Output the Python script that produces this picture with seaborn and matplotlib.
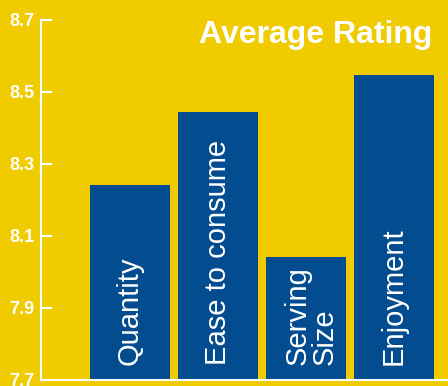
import matplotlib
matplotlib.use("Agg")
import matplotlib.pyplot as plt
import seaborn as sns
import pandas as pd

categories = ["Quantity", "Ease to consume", "Serving Size", "Enjoyment"]
labels = ["Quantity", "Ease to consume", "Serving\nSize", "Enjoyment"]
values = [8.242, 8.444, 8.042, 8.547]
yticks = [7.7, 7.9, 8.1, 8.3, 8.5, 8.7]
title = "Average Rating"

YELLOW = "#F0CB00"
BLUE = "#024C8F"

sns.set_style("white")
plt.rcParams["font.family"] = ["Liberation Sans", "DejaVu Sans"]

df = pd.DataFrame({"cat": categories, "val": values})

fig = plt.figure(figsize=(4.48, 3.86), dpi=100)
fig.patch.set_facecolor(YELLOW)
ax = fig.add_axes([41 / 448, 6 / 386, 1 - 41 / 448, 360 / 386])
ax.set_facecolor(YELLOW)

sns.barplot(data=df, x="cat", y="val", color=BLUE, width=0.909,
            saturation=1, ax=ax, linewidth=0)

ax.set_ylim(7.7, 8.7)
ax.set_xlim(-1.011, 3.614)
ax.set_yticks(yticks)
ax.set_yticklabels([f"{t:.1f}" for t in yticks], fontsize=13,
                   fontweight="bold", color="white")
ax.set_xticks([])
ax.set_xlabel("")
ax.set_ylabel("")
ax.tick_params(axis="y", direction="in", length=8, width=1.5,
               color="white", pad=5, left=True)

for s in ["top", "right"]:
    ax.spines[s].set_visible(False)
for s in ["left", "bottom"]:
    ax.spines[s].set_color("white")
    ax.spines[s].set_linewidth(1.5)

for i, lab in enumerate(labels):
    dx = 0.06 if "\n" in lab else 0
    ax.text(i + dx, 7.742, lab, rotation=90, ha="center", va="bottom",
            multialignment="left", color="white", fontsize=21,
            linespacing=0.95)

fig.text(432 / 448, 1 - 43 / 386, title, ha="right", va="baseline",
         color="white", fontsize=23, fontweight="bold")

fig.savefig("out.png", dpi=100, facecolor=YELLOW)
